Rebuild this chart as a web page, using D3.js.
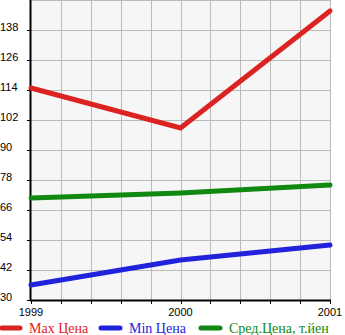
<!DOCTYPE html>
<html><head><meta charset="utf-8">
<script src="https://cdn.jsdelivr.net/npm/d3@7"></script>
<style>body{margin:0;background:#fff}svg{display:block}</style>
</head><body>
<svg id="c" width="345" height="335"></svg>
<script>
const years = [1999, 2000, 2001];
const maxPrice = [114.8, 98.8, 145.6];
const minPrice = [36, 46, 52];
const avgPrice = [70.8, 72.8, 76];
const yTicks = [30, 42, 54, 66, 78, 90, 102, 114, 126, 138];
const seriesNames = ["Max Цена", "Min Цена", "Сред.Цена, т.йен"];
const lineColors = ["#dd2222", "#2222dd", "#118811"];
const textColors = ["#dd2222", "#2222dd", "#118811"];

const svg = d3.select("#c");
const L = 31, R = 330, T = 0, B = 300;
const x = d3.scaleLinear().domain([1999, 2001]).range([L, R]);
const y = d3.scaleLinear().domain([30, 150]).range([B, T]);

svg.append("rect").attr("x", L).attr("y", T).attr("width", R - L).attr("height", B - T).attr("fill", "#f6f6f6");

// grid
const vGrid = d3.range(1, 11).map(i => 1999 + i * 0.2);
svg.append("g").selectAll("line").data(vGrid).join("line")
  .attr("x1", d => Math.round(x(d)) + 0.5).attr("x2", d => Math.round(x(d)) + 0.5)
  .attr("y1", T).attr("y2", B).attr("stroke", "#bbbbbb").attr("stroke-width", 1);
svg.append("g").selectAll("line").data(yTicks.slice(1).concat([150])).join("line")
  .attr("x1", L).attr("x2", R).attr("y1", d => Math.round(y(d)) + 0.5).attr("y2", d => Math.round(y(d)) + 0.5)
  .attr("stroke", "#bbbbbb").attr("stroke-width", 1);

// y axis ticks + labels
svg.append("g").selectAll("line").data(yTicks).join("line")
  .attr("x1", L - 4).attr("x2", L).attr("y1", d => Math.round(y(d)) + 0.5).attr("y2", d => Math.round(y(d)) + 0.5)
  .attr("stroke", "#000");
svg.append("g").selectAll("text").data(yTicks).join("text")
  .attr("x", 0).attr("y", d => y(d) + 0.5)
  .attr("font-family", "Liberation Sans, Arial, sans-serif").attr("font-size", 11)
  .attr("fill", "#000").text(d => d);

// x axis ticks
svg.append("g").selectAll("line").data(d3.range(0, 11).map(i => 1999 + i * 0.2)).join("line")
  .attr("x1", d => Math.round(x(d)) + 0.5).attr("x2", d => Math.round(x(d)) + 0.5)
  .attr("y1", B).attr("y2", B + 4).attr("stroke", "#000");
svg.append("g").selectAll("text").data(years).join("text")
  .attr("x", d => x(d)).attr("y", 316).attr("text-anchor", "middle")
  .attr("font-family", "Liberation Sans, Arial, sans-serif").attr("font-size", 11)
  .attr("fill", "#000").text(d => d);

// axes lines
svg.append("line").attr("x1", L - 0.5).attr("x2", L - 0.5).attr("y1", T).attr("y2", B + 1).attr("stroke", "#000").attr("stroke-width", 2);
svg.append("line").attr("x1", L - 1).attr("x2", R + 1).attr("y1", B + 0.5).attr("y2", B + 0.5).attr("stroke", "#000").attr("stroke-width", 2);

// lines
const line = d3.line().x((d, i) => x(years[i])).y(d => y(d));
[maxPrice, minPrice, avgPrice].forEach((s, k) => {
  svg.append("path").datum(s).attr("d", line).attr("fill", "none")
    .attr("stroke", lineColors[k]).attr("stroke-width", 5).attr("stroke-linecap", "round");
});

// legend
const legX = [[2, 20, 29], [101, 120, 129], [201, 220, 229]];
seriesNames.forEach((n, k) => {
  svg.append("line").attr("x1", legX[k][0]).attr("x2", legX[k][1]).attr("y1", 328).attr("y2", 328)
    .attr("stroke", lineColors[k]).attr("stroke-width", 5).attr("stroke-linecap", "round");
  svg.append("text").attr("x", legX[k][2]).attr("y", 332.5)
    .attr("font-family", "Liberation Serif, Times New Roman, serif").attr("font-size", 14)
    .attr("fill", textColors[k]).text(n);
});
</script>
</body></html>
